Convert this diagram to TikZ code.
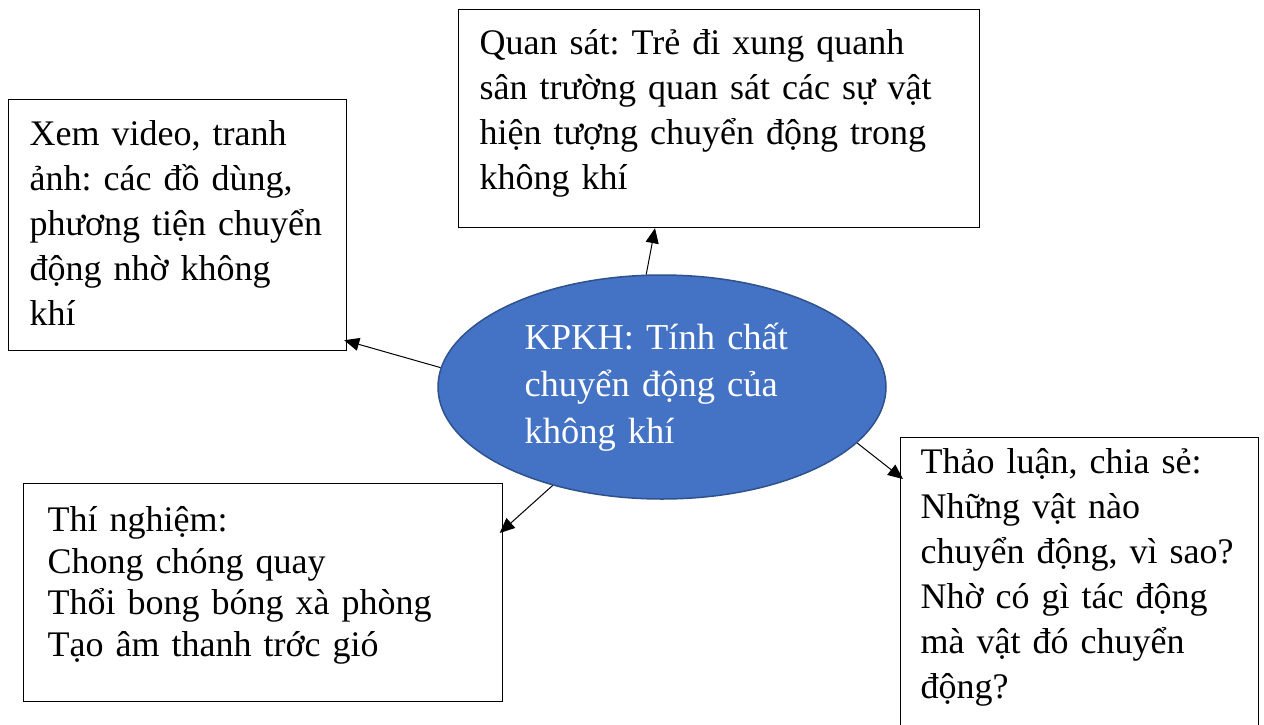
\documentclass[tikz,border=0pt]{standalone}
\usepackage{fontspec}
\setmainfont{Liberation Serif}
\usetikzlibrary{arrows.meta,shapes.geometric,calc}
\definecolor{ellfill}{HTML}{4472C4}
\definecolor{elldraw}{HTML}{2F528F}
\begin{document}
\frenchspacing
\begin{tikzpicture}[x=1pt,y=-1pt,
  box/.style={draw=black, line width=1.2pt, fill=white, anchor=north west,
    inner ysep=0pt, align=left, font=\fontsize{36}{45}\selectfont\frenchspacing},
  conn/.style={line width=1pt, -{Triangle[length=15pt,width=13pt]}}]
\useasboundingbox (0,0) rectangle (1264,724);

\node[box, inner xsep=21pt, text width=479pt, text height=45pt, text depth=173pt] (tb) at (458,9)
  {\mbox{Quan sát: Trẻ đi xung quanh}\\\mbox{sân trường quan sát các sự vật}\\\mbox{hiện tượng chuyển động trong}\\\mbox{không khí}};

\node[box, inner xsep=21pt, text width=296pt, text height=46pt, text depth=205pt] (lb) at (8,99)
  {\mbox{Xem video, tranh}\\\mbox{ảnh: các đồ dùng,}\\\mbox{phương tiện chuyển}\\\mbox{động nhờ không}\\\mbox{khí}};

\node[box, font=\fontsize{36}{41.5}\selectfont\frenchspacing, inner xsep=24pt, text width=431pt, text height=48pt, text depth=170pt] (bl) at (23,483)
  {\mbox{Thí nghiệm:}\\\mbox{Chong chóng quay}\\\mbox{Thổi bong bóng xà phòng}\\\mbox{Tạo âm thanh trớc gió}};

\node[box, inner xsep=20pt, text width=318pt, text height=36pt, text depth=320pt] (rb) at (900,437)
  {\mbox{Thảo luận, chia sẻ:}\\\mbox{Những vật nào}\\\mbox{chuyển động, vì sao?}\\\mbox{Nhờ có gì tác động}\\\mbox{mà vật đó chuyển}\\\mbox{động?}};

\node[ellipse, draw=elldraw, line width=1.5pt, fill=ellfill, minimum width=448pt, minimum height=224pt,
  inner sep=0pt, text=white, text width=275pt, align=left, font=\fontsize{36.5}{47}\selectfont\frenchspacing] (kp) at (662,387)
  {KPKH: Tính chất\\chuyển động của\\không khí};

\draw[conn] (kp.98) -- ($(tb.south west)+(197,0)$);
\draw[conn] (kp.175) -- ($(lb.south east)+(-3,-11)$);
\draw[conn] (kp.222) -- ($(bl.north east)+(-3.5,50)$);
\draw[conn] (kp.344) -- ($(rb.north west)+(3,42)$);
\end{tikzpicture}
\end{document}
